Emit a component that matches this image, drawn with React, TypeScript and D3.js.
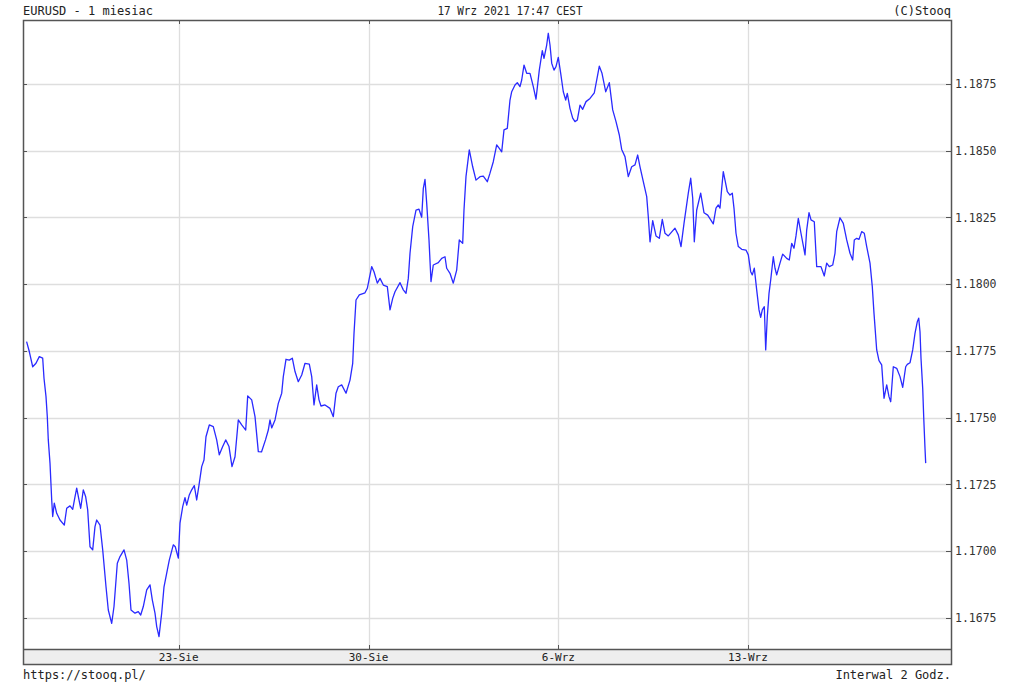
import React from "react";
import * as d3 from "d3";

// trading-time position (2-hour bars since start) and EURUSD rate
const bars: number[] = [
  0, 0.85, 1.92, 2.96, 4.0, 5.07, 5.48, 6.11, 6.52, 6.83,
  7.37, 7.91, 8.22, 8.72, 9.48, 10.52, 11.87, 12.63, 13.67, 14.52,
  15.24, 15.78, 16.5, 17.04, 17.86, 18.61, 19.24, 19.97, 20.82, 21.54,
  22.08, 23.12, 23.97, 25.01, 25.73, 26.8, 27.53, 28.57, 29.42, 30.68,
  31.53, 32.25, 32.88, 34.14, 35.18, 35.94, 36.76, 37.83, 38.87, 39.59,
  40.44, 40.98, 41.7, 42.55, 43.28, 44.13, 44.94, 46.2, 46.83, 47.78,
  48.31, 49.17, 49.89, 50.43, 51.24, 52.0, 52.82, 53.57, 54.3, 55.15,
  55.87, 56.5, 57.54, 58.8, 59.87, 60.69, 61.76, 62.71, 63.75, 64.69,
  65.64, 66.68, 67.75, 69.01, 69.64, 70.9, 71.94, 72.98, 73.98, 75.24,
  76.13, 76.66, 77.2, 78.24, 79.28, 80.35, 80.85, 81.7, 82.74, 83.69,
  84.54, 85.57, 86.65, 87.69, 89.04, 89.8, 90.52, 91.37, 92.09, 92.72,
  93.98, 95.56, 96.6, 97.45, 98.17, 99.24, 100.6, 101.86, 102.71, 103.12,
  103.75, 104.79, 106.58, 107.31, 107.94, 108.69, 109.42, 110.46, 111.31, 112.35,
  113.61, 114.46, 115.31, 116.03, 117.61, 118.65, 119.5, 120.22, 120.76, 121.61,
  122.65, 123.59, 124.44, 124.95, 125.48, 126.02, 126.74, 127.37, 128.09, 129.67,
  130.74, 131.78, 132.31, 133.35, 134.39, 135.46, 136.28, 137.35, 137.76, 138.39,
  139.43, 140.5, 141.54, 142.8, 143.84, 145.1, 145.95, 146.99, 148.06, 148.88,
  149.64, 150.36, 151.4, 152.25, 152.79, 153.83, 154.55, 155.4, 155.94, 156.66,
  157.51, 158.55, 159.59, 160.44, 161.48, 162.43, 162.96, 163.81, 164.31, 164.85,
  165.39, 166.11, 166.74, 167.46, 168.22, 169.04, 169.8, 170.3, 171.15, 172.0,
  172.72, 173.45, 174.3, 175.15, 176.19, 177.45, 178.8, 179.75, 180.38, 181.23,
  182.39, 183.53, 184.6, 185.64, 186.68, 187.43, 188.47, 189.51, 190.58, 191.62,
  192.47, 193.2, 194.24, 195.31, 195.81, 196.35, 197.2, 198.24, 199.28, 200.22,
  201.07, 202.11, 204.22, 205.26, 206.11, 207.06, 208.41, 209.17, 209.8, 210.3,
  211.06, 212.31, 213.35, 214.52, 216.28, 217.13, 217.86, 218.39, 218.93, 219.43,
  219.97, 220.69, 221.54, 222.27, 222.8, 223.43, 224.16, 225.23, 226.58, 227.31,
  228.06, 228.57, 229.2, 229.95, 230.68, 231.21, 231.72, 232.35, 232.79, 233.29,
  233.83, 234.36, 235.18, 235.72, 236.25, 237.29, 238.14, 239.4, 240.22, 240.98,
  241.7, 242.33, 243.06, 243.9, 245.17, 245.7, 246.43, 247.06, 248.09, 248.85,
  250.2, 251.24, 252.0, 252.82, 253.89, 254.61, 255.15, 256.19, 257.23, 258.3,
  259.34, 260.19, 260.69, 261.45, 262.17, 263.02, 263.84, 264.6, 265.64, 266.36,
  266.9, 267.75, 268.47, 269.32, 270.05, 270.9, 271.62, 272.16, 272.98, 274.05,
  275.09, 275.94, 276.88, 277.39, 278.24, 279.09, 279.81, 280.54, 280.98, 281.39,
  281.7, 282.24, 282.55, 282.96, 283.18,
];

const rates: number[] = [
  1.17785, 1.17748, 1.17691, 1.17704, 1.17729, 1.17723, 1.17648, 1.17579, 1.17504, 1.17417,
  1.1733, 1.17192, 1.1713, 1.1718, 1.17142, 1.17117, 1.17098, 1.17161, 1.1717, 1.17157,
  1.17204, 1.17236, 1.17192, 1.17161, 1.1723, 1.17204, 1.17155, 1.17017, 1.17005, 1.17092,
  1.17117, 1.17098, 1.17005, 1.16867, 1.1678, 1.1673, 1.16793, 1.16955, 1.1698, 1.17005,
  1.16967, 1.1688, 1.1678, 1.16768, 1.16774, 1.16761, 1.16793, 1.16855, 1.16874, 1.16818,
  1.16768, 1.16718, 1.1668, 1.16768, 1.16867, 1.16918, 1.16967, 1.17024, 1.17017, 1.16974,
  1.17105, 1.17167, 1.17201, 1.17173, 1.17211, 1.1723, 1.17246, 1.17192, 1.17248, 1.17317,
  1.17342, 1.17429, 1.17473, 1.17467, 1.17417, 1.17361, 1.17392, 1.17417, 1.17392, 1.17317,
  1.17354, 1.17492, 1.17473, 1.17454, 1.17582, 1.17567, 1.17504, 1.17373, 1.17372, 1.17417,
  1.17454, 1.17492, 1.17462, 1.17492, 1.17554, 1.17592, 1.17654, 1.17719, 1.17716, 1.17723,
  1.17673, 1.17635, 1.1766, 1.17704, 1.17701, 1.17654, 1.17548, 1.17623, 1.17567, 1.17544,
  1.17548, 1.17535, 1.17504, 1.17592, 1.17616, 1.17623, 1.17592, 1.17641, 1.17704, 1.17816,
  1.17941, 1.1796, 1.17968, 1.17985, 1.18022, 1.18066, 1.18047, 1.18004, 1.18022, 1.17997,
  1.17991, 1.17904, 1.17947, 1.17972, 1.18006, 1.17979, 1.17966, 1.18022, 1.18116, 1.18216,
  1.18278, 1.18281, 1.18251, 1.18359, 1.18393, 1.18303, 1.18166, 1.1801, 1.18072, 1.18081,
  1.18097, 1.18103, 1.1806, 1.18041, 1.18004, 1.18053, 1.18166, 1.18153, 1.18278, 1.18403,
  1.18503, 1.1844, 1.1839, 1.18403, 1.18405, 1.18384, 1.18416, 1.18459, 1.18522, 1.18509,
  1.18496, 1.18578, 1.18584, 1.1869, 1.18721, 1.18746, 1.18755, 1.1874, 1.18765, 1.18821,
  1.1879, 1.1879, 1.1874, 1.18693, 1.18802, 1.18875, 1.18846, 1.18896, 1.1894, 1.18896,
  1.18828, 1.18802, 1.18815, 1.1885, 1.1879, 1.18721, 1.1869, 1.18715, 1.18659, 1.18622,
  1.18609, 1.18615, 1.18671, 1.18655, 1.18684, 1.18696, 1.18717, 1.18777, 1.18817, 1.1879,
  1.18721, 1.18755, 1.18653, 1.18609, 1.18559, 1.18505, 1.18478, 1.18403, 1.1844, 1.18447,
  1.18484, 1.1844, 1.18384, 1.18328, 1.18253, 1.18159, 1.18238, 1.18181, 1.18172, 1.18243,
  1.18191, 1.18181, 1.1821, 1.18185, 1.18141, 1.18228, 1.18341, 1.18397, 1.18322, 1.18159,
  1.18278, 1.18341, 1.18268, 1.18259, 1.18226, 1.18285, 1.18297, 1.18285, 1.18359, 1.18422,
  1.1839, 1.18347, 1.18334, 1.18341, 1.18285, 1.18191, 1.18141, 1.18131, 1.18128, 1.1811,
  1.18047, 1.18035, 1.1806, 1.17979, 1.17904, 1.17876, 1.17904, 1.17916, 1.17754, 1.17879,
  1.17966, 1.18016, 1.18103, 1.1806, 1.18035, 1.18079, 1.18113, 1.18097, 1.18091, 1.18153,
  1.18135, 1.18181, 1.18247, 1.18191, 1.1811, 1.18203, 1.18268, 1.18241, 1.18234, 1.18066,
  1.18066, 1.18031, 1.18079, 1.18066, 1.18072, 1.18116, 1.18197, 1.18249, 1.18228, 1.18166,
  1.18116, 1.18091, 1.18166, 1.18172, 1.18168, 1.18197, 1.18191, 1.18141, 1.18079, 1.17991,
  1.17891, 1.17754, 1.17714, 1.17698, 1.17573, 1.17623, 1.17579, 1.1756, 1.17691, 1.17685,
  1.17654, 1.17614, 1.17691, 1.177, 1.17706, 1.17754, 1.17816, 1.1786, 1.17873, 1.17822,
  1.17723, 1.1761, 1.17504, 1.17386, 1.1733,
];

const xTickBars: number[] = [47.9, 107.7, 167.5, 227.2];
const xTickLabels: string[] = ["23-Sie", "30-Sie", "6-Wrz", "13-Wrz"];
const yTicks: number[] = [1.1675, 1.17, 1.1725, 1.175, 1.1775, 1.18, 1.1825, 1.185, 1.1875];

const titleLeft = "EURUSD - 1 miesiac";
const titleCenter = "17 Wrz 2021 17:47 CEST";
const titleRight = "(C)Stooq";
const footLeft = "https://stooq.pl/";
const footRight = "Interwal 2 Godz.";

const W = 1024;
const H = 690;
const L = 23;
const R = 951;
const T = 20;
const B = 649;
const BAND = 664;

export default function App() {
  const x = d3.scaleLinear().domain([-1.134, 291.15]).range([L, R]);
  const y = d3.scaleLinear().domain([1.1675, 1.1875]).range([618, 84]);
  const n = Math.min(bars.length, rates.length);
  const pts: [number, number][] = [];
  for (let i = 0; i < n; i++) pts.push([bars[i], rates[i]]);
  const line = d3
    .line<[number, number]>()
    .x((d) => x(d[0]))
    .y((d) => y(d[1]));
  const fmt = d3.format(".4f");
  const font = "'DejaVu Sans Mono', 'Liberation Mono', monospace";
  const gridColor = "#dedede";
  const frame = "#555";

  return (
    <svg
      width={W}
      height={H}
      style={{ position: "absolute", left: 0, top: 0, background: "#fff" }}
      fontFamily={font}
    >
      <rect x={0} y={0} width={W} height={H} fill="#fff" />
      {/* header */}
      <text x={L} y={15} fontSize={12} fill="#222" textLength={130} lengthAdjust="spacingAndGlyphs">
        {titleLeft}
      </text>
      <text x={510} y={15} fontSize={12} fill="#222" textAnchor="middle" textLength={145} lengthAdjust="spacingAndGlyphs">
        {titleCenter}
      </text>
      <text x={R} y={15} fontSize={12} fill="#222" textAnchor="end">
        {titleRight}
      </text>

      {/* grid */}
      {yTicks.map((t) => (
        <line key={"gy" + t} x1={L} x2={R} y1={Math.round(y(t)) + 0.5} y2={Math.round(y(t)) + 0.5} stroke={gridColor} strokeWidth={1.3} />
      ))}
      {xTickBars.map((b) => (
        <line key={"gx" + b} x1={Math.round(x(b)) + 0.5} x2={Math.round(x(b)) + 0.5} y1={T} y2={B} stroke={gridColor} strokeWidth={1.3} />
      ))}

      {/* series */}
      <path d={line(pts) || ""} fill="none" stroke="#2a2aff" strokeWidth={1.3} strokeLinejoin="round" />

      {/* x band */}
      <rect x={L} y={B} width={R - L} height={BAND - B} fill="#eeeeee" stroke="none" />
      {xTickBars.map((b, i) => (
        <g key={"xl" + b}>
          <line x1={Math.round(x(b)) + 0.5} x2={Math.round(x(b)) + 0.5} y1={B - 4} y2={B} stroke={frame} strokeWidth={1} />
          <line x1={Math.round(x(b)) + 0.5} x2={Math.round(x(b)) + 0.5} y1={T} y2={T + 4} stroke={frame} strokeWidth={1} />
          <text x={x(b)} y={661} fontSize={11} fill="#222" textAnchor="middle">
            {xTickLabels[i]}
          </text>
        </g>
      ))}

      {/* y ticks + labels */}
      {yTicks.map((t) => (
        <g key={"yl" + t}>
          <line x1={R - 5} x2={R} y1={Math.round(y(t)) + 0.5} y2={Math.round(y(t)) + 0.5} stroke={frame} strokeWidth={1} />
          <line x1={L} x2={L + 4} y1={Math.round(y(t)) + 0.5} y2={Math.round(y(t)) + 0.5} stroke={frame} strokeWidth={1} />
          <text x={955} y={y(t) + 4} fontSize={11.5} fill="#333">
            {fmt(t)}
          </text>
        </g>
      ))}

      {/* frame */}
      <rect x={L + 0.5} y={T + 0.5} width={R - L} height={BAND - T} fill="none" stroke={frame} strokeWidth={1.5} />
      <line x1={L} x2={R} y1={B + 0.5} y2={B + 0.5} stroke={frame} strokeWidth={1.3} />

      {/* footer */}
      <text x={L} y={679} fontSize={12} fill="#222">
        {footLeft}
      </text>
      <text x={R} y={679} fontSize={12} fill="#222" textAnchor="end">
        {footRight}
      </text>
    </svg>
  );
}
